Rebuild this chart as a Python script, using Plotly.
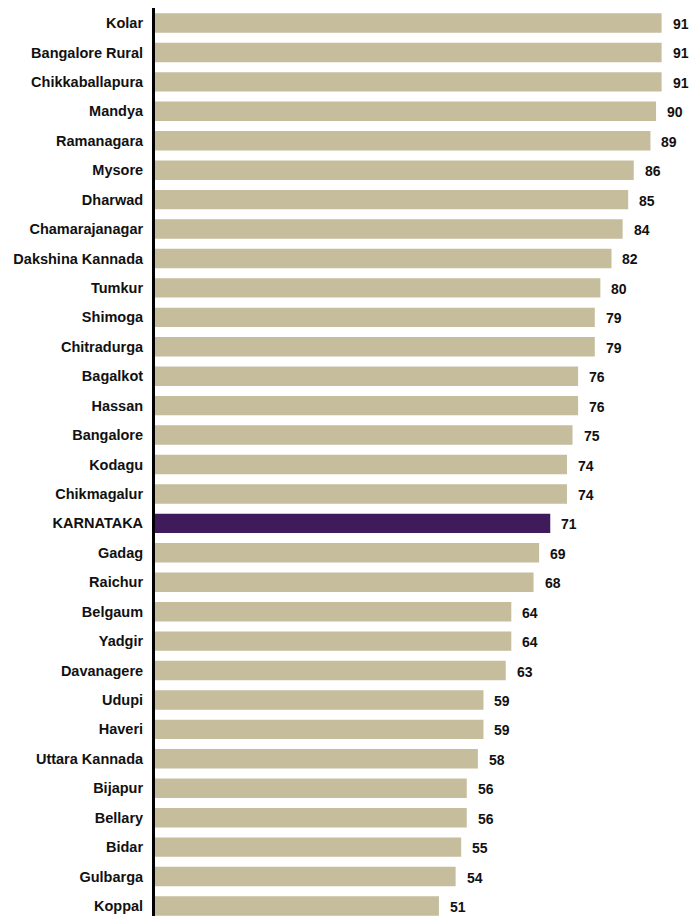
import plotly.graph_objects as go

districts = ["Kolar", "Bangalore Rural", "Chikkaballapura", "Mandya", "Ramanagara", "Mysore",
             "Dharwad", "Chamarajanagar", "Dakshina Kannada", "Tumkur", "Shimoga", "Chitradurga",
             "Bagalkot", "Hassan", "Bangalore", "Kodagu", "Chikmagalur", "KARNATAKA", "Gadag",
             "Raichur", "Belgaum", "Yadgir", "Davanagere", "Udupi", "Haveri", "Uttara Kannada",
             "Bijapur", "Bellary", "Bidar", "Gulbarga", "Koppal"]
values = [91, 91, 91, 90, 89, 86, 85, 84, 82, 80, 79, 79, 76, 76, 75, 74, 74, 71, 69, 68,
          64, 64, 63, 59, 59, 58, 56, 56, 55, 54, 51]

TAN = "#C5BD9C"
PURPLE = "#3F1B5C"
colors = [PURPLE if d == "KARNATAKA" else TAN for d in districts]
FONT = "Liberation Sans Narrow, Arial Narrow, Liberation Sans, Arial, sans-serif"

fig = go.Figure(go.Bar(
    x=values, y=districts, orientation="h",
    marker=dict(color=colors, line=dict(width=0)),
    width=0.66,
))

for d, v in zip(districts, values):
    fig.add_annotation(x=v, y=d, text=str(v), showarrow=False, xanchor="left",
                       xshift=9, yshift=-1,
                       font=dict(family=FONT, size=14, color="#111111", weight="bold"))

fig.update_layout(
    width=695, height=916,
    margin=dict(l=155, r=0, t=8, b=0),
    paper_bgcolor="white", plot_bgcolor="white",
    showlegend=False,
    font=dict(family=FONT, size=14, color="#111111"),
    xaxis=dict(range=[0, 97], visible=False, showgrid=False, zeroline=False),
    yaxis=dict(range=[30.34, -0.51], showgrid=False, zeroline=False, automargin=False,
               showline=True, linecolor="black", linewidth=3,
               ticks="", ticklabelstandoff=6,
               tickfont=dict(family=FONT, size=14.5, color="#111111", weight="bold")),
)

fig.write_html("out.html")
